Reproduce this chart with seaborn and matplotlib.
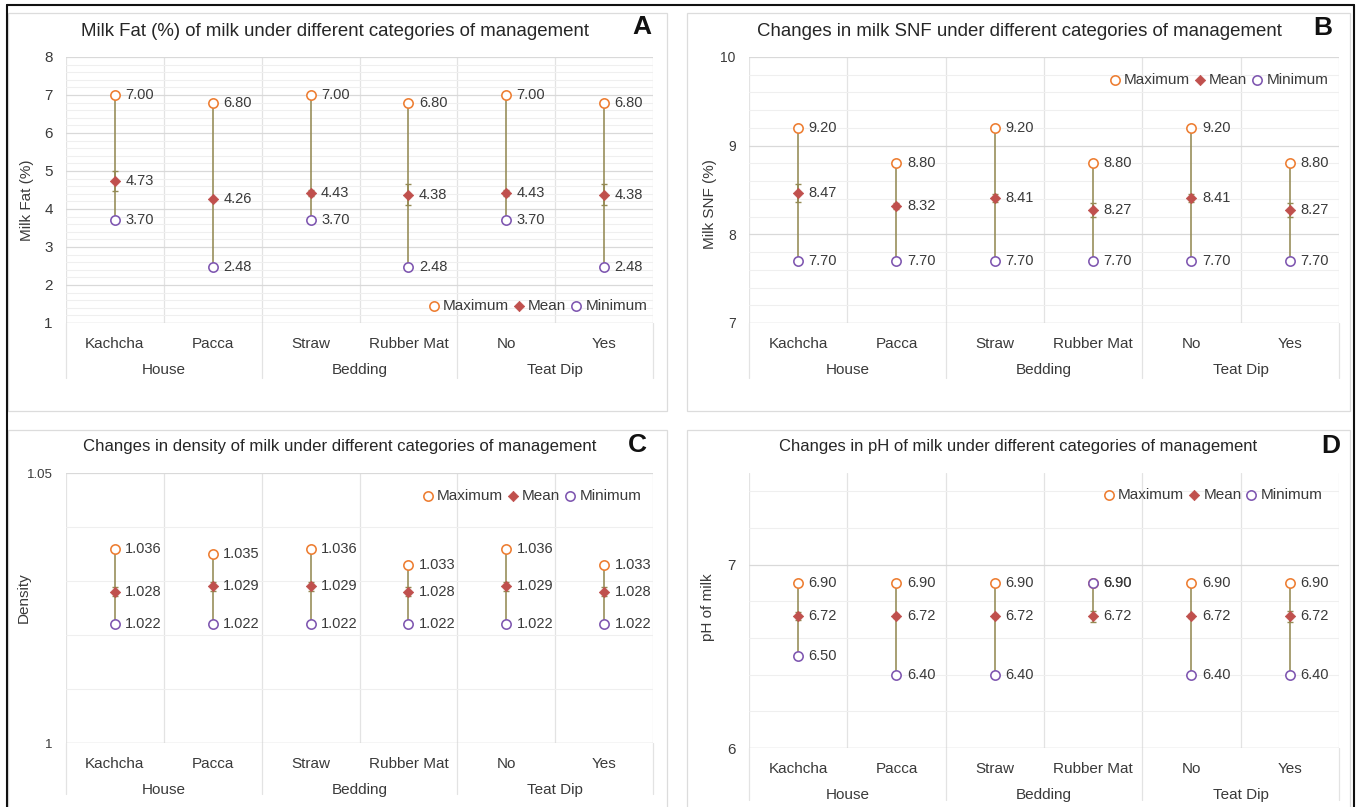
import numpy as np
import seaborn as sns
import matplotlib.pyplot as plt
from matplotlib.patches import Rectangle
from matplotlib.lines import Line2D
from matplotlib.ticker import MultipleLocator

categories = ['Kachcha', 'Pacca', 'Straw', 'Rubber Mat', 'No', 'Yes']
groups = ['House', 'Bedding', 'Teat Dip']

fat_max = [7.00, 6.80, 7.00, 6.80, 7.00, 6.80]
fat_mean = [4.73, 4.26, 4.43, 4.38, 4.43, 4.38]
fat_min = [3.70, 2.48, 3.70, 2.48, 3.70, 2.48]
fat_se = [0.26, 0.04, 0.08, 0.27, 0.08, 0.27]

snf_max = [9.20, 8.80, 9.20, 8.80, 9.20, 8.80]
snf_mean = [8.47, 8.32, 8.41, 8.27, 8.41, 8.27]
snf_min = [7.70, 7.70, 7.70, 7.70, 7.70, 7.70]
snf_se = [0.10, 0.03, 0.04, 0.08, 0.04, 0.08]

den_max = [1.036, 1.035, 1.036, 1.033, 1.036, 1.033]
den_mean = [1.028, 1.029, 1.029, 1.028, 1.029, 1.028]
den_min = [1.022, 1.022, 1.022, 1.022, 1.022, 1.022]
den_se = [0.0008, 0.0008, 0.0008, 0.0008, 0.0008, 0.0008]

ph_max = [6.90, 6.90, 6.90, 6.90, 6.90, 6.90]
ph_mean = [6.72, 6.72, 6.72, 6.72, 6.72, 6.72]
ph_min = [6.50, 6.40, 6.40, 6.90, 6.40, 6.40]
ph_se = [0.02, 0.01, 0.01, 0.03, 0.01, 0.03]

c_max = '#ED7D31'
c_mean = '#C0504D'
c_min = '#7E56B0'
c_line = '#948A54'
c_text = '#3A3A3A'

sns.set_theme(style='white')
plt.rcParams['font.family'] = ['Liberation Sans', 'DejaVu Sans']

W, H = 1357, 807
fig = plt.figure(figsize=(W / 100, H / 100), dpi=100)


def box(l, t, r, b):
    return [l / W, 1 - b / H, (r - l) / W, (b - t) / H]


def draw_panel(rect, vmax, vmean, vmin, se, fmt, ylim, major, minor, yticks,
               yticklabels, ytick_size, ylabel, ylabel_xy, legend_xy, sep_px):
    ax = fig.add_axes(box(*rect))
    ax_h = rect[3] - rect[1]
    x = np.arange(len(categories))

    sns.scatterplot(x=categories, y=vmax, ax=ax, marker='o', s=45, color=c_max,
                    facecolor='white', edgecolor=c_max, linewidth=1.15, zorder=5,
                    label='Maximum')
    sns.scatterplot(x=categories, y=vmean, ax=ax, marker='D', s=28, color=c_mean,
                    edgecolor=c_mean, linewidth=0.5, zorder=6, label='Mean')
    sns.scatterplot(x=categories, y=vmin, ax=ax, marker='o', s=45, color=c_min,
                    facecolor='white', edgecolor=c_min, linewidth=1.15, zorder=5,
                    label='Minimum')

    hi = np.maximum.reduce([vmax, vmean, vmin])
    lo = np.minimum.reduce([vmax, vmean, vmin])
    ax.vlines(x, lo, hi, color=c_line, lw=1.15, zorder=2)
    ax.errorbar(x, vmean, yerr=se, fmt='none', ecolor=c_line, elinewidth=1.1,
                capsize=2.5, capthick=1, zorder=3)

    for series in (vmax, vmean, vmin):
        for xi, v in zip(x, series):
            ax.annotate(format(v, fmt), (xi, v), xytext=(7.5, 0),
                        textcoords='offset points', ha='left', va='center',
                        fontsize=10.5, color=c_text, zorder=7)

    ax.set_xlim(-0.5, len(categories) - 0.5)
    ax.set_ylim(*ylim)
    ax.yaxis.set_major_locator(MultipleLocator(major))
    ax.yaxis.set_minor_locator(MultipleLocator(minor))
    ax.set_yticks(yticks)
    ax.set_yticklabels(yticklabels)
    ax.set_xticks(x)
    ax.set_xticklabels(categories)
    ax.set_xticks(np.arange(len(categories) + 1) - 0.5, minor=True)
    ax.grid(True, axis='y', which='major', color='#D9D9D9', lw=0.9)
    ax.grid(True, axis='y', which='minor', color='#EFEFEF', lw=0.8)
    ax.grid(True, axis='x', which='minor', color='#E3E3E3', lw=0.9)
    ax.set_axisbelow(True)
    for s in ['top', 'right', 'left', 'bottom']:
        ax.spines[s].set_visible(False)
    ax.tick_params(axis='x', which='both', length=0, pad=10, labelsize=11,
                   colors=c_text)
    ax.tick_params(axis='y', which='both', length=0, pad=9.5,
                   labelsize=ytick_size, colors=c_text)
    ax.set_xlabel('')
    ax.set_ylabel(ylabel, fontsize=11, color=c_text)
    ax.yaxis.set_label_coords(*ylabel_xy)

    # axis floor line
    ax.axhline(ylim[0], color='#D9D9D9', lw=0.9, zorder=1)

    # group labels and separators under the category axis
    frac = sep_px / ax_h
    for k in range(0, len(categories) + 1, 2):
        ax.plot([k - 0.5, k - 0.5], [0, -frac], transform=ax.get_xaxis_transform(),
                color='#E3E3E3', lw=0.9, clip_on=False)
    for g, name in enumerate(groups):
        ax.annotate(name, (2 * g + 0.5, 0), xycoords=('data', 'axes fraction'),
                    xytext=(0, -34), textcoords='offset points', ha='center',
                    va='center', fontsize=11, color=c_text)

    leg = ax.legend(loc='center right', bbox_to_anchor=legend_xy, ncol=3,
                    frameon=False, fontsize=11, handlelength=0.6,
                    handletextpad=0.3, columnspacing=0.35, markerscale=1.0,
                    borderpad=0, borderaxespad=0)
    for t in leg.get_texts():
        t.set_color(c_text)
    return ax


panels = [
    dict(rect=(66, 57, 653, 323), vmax=fat_max, vmean=fat_mean, vmin=fat_min,
         se=fat_se, fmt='.2f', ylim=(1, 8), major=1, minor=0.2,
         yticks=[1, 2, 3, 4, 5, 6, 7, 8],
         yticklabels=['1', '2', '3', '4', '5', '6', '7', '8'], ytick_size=11,
         ylabel='Milk Fat (%)', ylabel_xy=(-0.055, 0.46), legend_xy=(0.99, 0.063),
         sep_px=55),
    dict(rect=(749, 57, 1339, 323), vmax=snf_max, vmean=snf_mean, vmin=snf_min,
         se=snf_se, fmt='.2f', ylim=(7, 10), major=1, minor=0.2,
         yticks=[7, 8, 9, 10], yticklabels=['7', '8', '9', '10'], ytick_size=10,
         ylabel='Milk SNF (%)', ylabel_xy=(-0.054, 0.447), legend_xy=(0.982, 0.915),
         sep_px=55),
    dict(rect=(66, 473, 653, 743), vmax=den_max, vmean=den_mean, vmin=den_min,
         se=den_se, fmt='.3f', ylim=(1, 1.05), major=0.05, minor=0.01,
         yticks=[1, 1.05], yticklabels=['1', '1.05'], ytick_size=9.5,
         ylabel='Density', ylabel_xy=(-0.06, 0.537), legend_xy=(0.98, 0.915),
         sep_px=51),
    dict(rect=(749, 473, 1339, 748), vmax=ph_max, vmean=ph_mean, vmin=ph_min,
         se=ph_se, fmt='.2f', ylim=(6, 7.5), major=1, minor=0.2,
         yticks=[6, 7], yticklabels=['6', '7'], ytick_size=11,
         ylabel='pH of milk', ylabel_xy=(-0.058, 0.513), legend_xy=(0.972, 0.92),
         sep_px=52),
]

for p in panels:
    draw_panel(**p)

titles = [
    ('Milk Fat (%) of milk under different categories of management', 335, 32, 13.4),
    ('Changes in milk SNF under different categories of management', 1019, 32, 13.4),
    ('Changes in density of milk under different categories of management', 340, 446, 12.1),
    ('Changes in pH of milk under different categories of management', 1018, 446, 12.0),
]
for text, tx, ty, fs in titles:
    fig.text(tx / W, 1 - ty / H, text, ha='center', va='center', fontsize=fs,
             color='#262626')

letters = [('A', 642, 27), ('B', 1323, 28), ('C', 637, 445), ('D', 1331, 446)]
for text, tx, ty in letters:
    fig.text(tx / W, 1 - ty / H, text, ha='center', va='center', fontsize=19,
             fontweight='bold', color='#111111')

# panel borders
for l, t, r, b in [(8, 13, 667, 411), (687, 13, 1350, 411),
                   (8, 430, 667, 815), (687, 430, 1350, 815)]:
    fig.add_artist(Rectangle((l / W, 1 - b / H), (r - l) / W, (b - t) / H,
                             transform=fig.transFigure, fill=False,
                             edgecolor='#DCDCDC', lw=0.9))

# outer black frame
frame = dict(transform=fig.transFigure, color='#111111', lw=1.5)
fig.add_artist(Line2D([7 / W, 7 / W], [0, 1 - 5 / H], **frame))
fig.add_artist(Line2D([7 / W, 1354 / W], [1 - 5 / H, 1 - 5 / H], **frame))
fig.add_artist(Line2D([1354 / W, 1354 / W], [0, 1 - 5 / H], **frame))

fig.savefig('out.png', dpi=100, facecolor='white')
